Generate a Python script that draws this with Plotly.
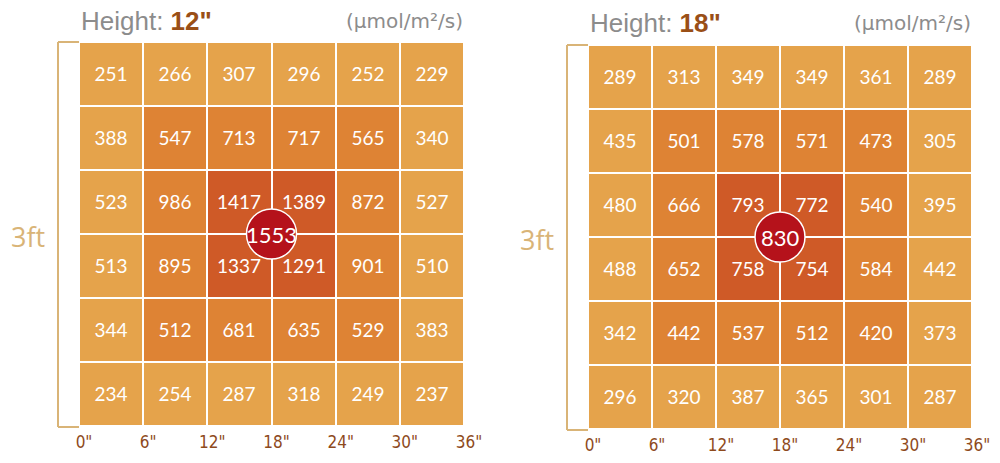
import plotly.graph_objects as go

# ---- data ----
heights = ['12"', '18"']
units = "(μmol/m²/s)"
side_label = "3ft"
tick_labels = ['0"', '6"', '12"', '18"', '24"', '30"', '36"']

ppfd_12 = [
    [251, 266, 307, 296, 252, 229],
    [388, 547, 713, 717, 565, 340],
    [523, 986, 1417, 1389, 872, 527],
    [513, 895, 1337, 1291, 901, 510],
    [344, 512, 681, 635, 529, 383],
    [234, 254, 287, 318, 249, 237],
]
ppfd_18 = [
    [289, 313, 349, 349, 361, 289],
    [435, 501, 578, 571, 473, 305],
    [480, 666, 793, 772, 540, 395],
    [488, 652, 758, 754, 584, 442],
    [342, 442, 537, 512, 420, 373],
    [296, 320, 387, 365, 301, 287],
]
center_vals = [1553, 830]

# ---- style ----
ring_colors = ["#e5a34b", "#de8334", "#cf5a27"]
tan = "#d9b477"
brown = "#8e4a1c"
grid_px = [(79, 464, 42, 426), (588, 972, 45, 429)]
W, H = 1000, 463

fig = go.Figure()
n = 6
for k, data in enumerate([ppfd_12, ppfd_18]):
    ring = [[min(i, j, n - 1 - i, n - 1 - j) for j in range(n)] for i in range(n)]
    xa = "x" if k == 0 else "x2"
    ya = "y" if k == 0 else "y2"
    fig.add_trace(go.Heatmap(
        z=ring, text=data, texttemplate="%{text}",
        textfont=dict(color="white", size=19, family="Lato, Open Sans, sans-serif"),
        colorscale=[[0, ring_colors[0]], [0.5, ring_colors[1]], [1, ring_colors[2]]],
        zmin=0, zmax=2, showscale=False, xgap=2, ygap=2, hoverinfo="skip",
        xaxis=xa, yaxis=ya,
    ))
    x0p, x1p, y0p, y1p = grid_px[k]
    axx = dict(domain=[x0p / W, x1p / W], range=[-0.5, 5.5], showgrid=False, zeroline=False,
               tickvals=[-0.5 + i for i in range(7)], ticktext=tick_labels,
               tickfont=dict(color=brown, size=17, family="Liberation Sans Narrow, DejaVu Sans Condensed, sans-serif"),
               ticks="", ticklabelshift=5, ticklabelstandoff=4, fixedrange=True, automargin=False)
    axy = dict(domain=[(H - y1p) / H, (H - y0p) / H], range=[5.5, -0.5], showgrid=False,
               zeroline=False, showticklabels=False, ticks="", fixedrange=True, automargin=False)
    if k == 0:
        fig.update_layout(xaxis=dict(axx, anchor="y"), yaxis=dict(axy, anchor="x"))
    else:
        fig.update_layout(xaxis2=dict(axx, anchor="y2"), yaxis2=dict(axy, anchor="x2"))

    # center circle
    fig.add_shape(type="circle", xref=xa, yref=ya, xsizemode="pixel", ysizemode="pixel",
                  xanchor=2.5, yanchor=2.5, x0=-25, x1=25, y0=-25, y1=25,
                  fillcolor="#b5121b", line=dict(color="white", width=1.5), layer="above")
    fig.add_annotation(x=2.5, y=2.5, xref=xa, yref=ya, text=str(center_vals[k]), showarrow=False,
                       font=dict(color="white", size=22, family="Lato, Open Sans, sans-serif"))

    # bracket
    bx = x0p - 21
    for (xa0, ya0, xa1, ya1) in [(bx, y0p, bx, y1p + 1), (bx, y0p, x0p, y0p), (bx, y1p + 1, x0p, y1p + 1)]:
        fig.add_shape(type="line", xref="paper", yref="paper",
                      x0=xa0 / W, x1=xa1 / W, y0=1 - ya0 / H, y1=1 - ya1 / H,
                      line=dict(color=tan, width=2))
    # 3ft label
    fig.add_annotation(x=(bx - 30) / W, y=1 - ((y0p + y1p) / 2 + 2) / H, xref="paper", yref="paper",
                       text=side_label, showarrow=False, xanchor="center", yanchor="middle",
                       font=dict(color=tan, size=27, family="Open Sans, sans-serif"))
    # title
    ty = 1 - (21 + 2 * k) / H
    fig.add_annotation(x=(x0p) / W, y=ty, xref="paper", yref="paper", xanchor="left", yanchor="middle",
                       text=f'Height: <b><span style="color:#9a4f17">{heights[k]}</span></b>',
                       showarrow=False, font=dict(color="#8c8c8c", size=26, family="Liberation Sans, Arial, sans-serif"))
    fig.add_annotation(x=(x1p + 1) / W, y=ty, xref="paper", yref="paper", xanchor="right", yanchor="middle",
                       text=units, showarrow=False,
                       font=dict(color="#8c8c8c", size=20, family="DejaVu Sans, sans-serif"))

fig.update_layout(width=W, height=H, autosize=False, margin=dict(l=0, r=0, t=0, b=0, pad=0),
                  paper_bgcolor="white", plot_bgcolor="white", showlegend=False)
fig.write_html(
    "out.html",
    config={"responsive": False, "displayModeBar": False},
    post_script="document.body.style.margin='0';document.body.style.overflow='hidden';"
                "Plotly.relayout('{plot_id}', {width: 1000, height: 463});",
)
